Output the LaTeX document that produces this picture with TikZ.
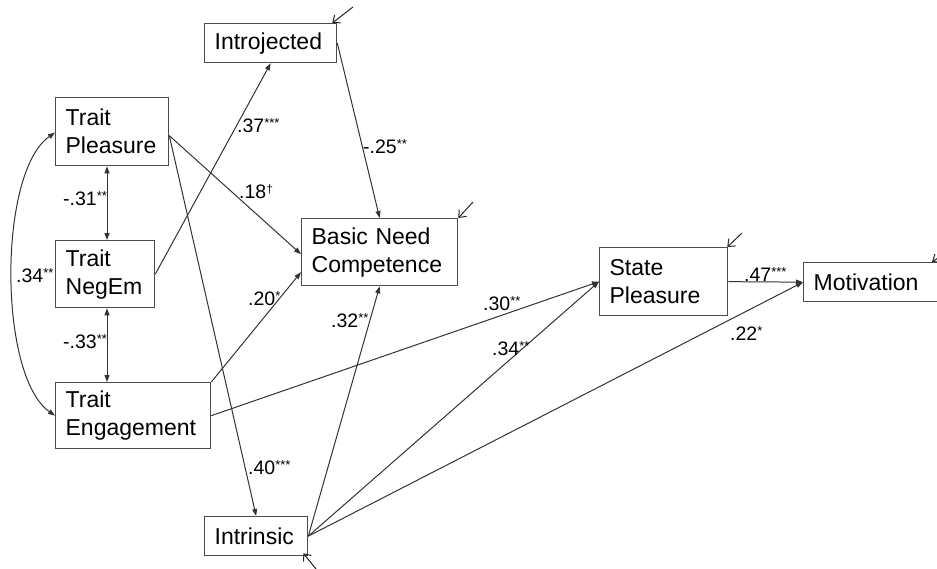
\documentclass[tikz,border=0pt]{standalone}
\usepackage{fontspec}
\setmainfont{Liberation Sans}
\usetikzlibrary{arrows.meta,calc}
\newcommand{\sg}[1]{\raisebox{5pt}{\fontsize{13}{13}\selectfont #1}}
\begin{document}
\begin{tikzpicture}[x=1pt,y=-1pt,
  box/.style={draw=black!70, line width=1.3pt, anchor=north west, inner xsep=10pt, inner ysep=2pt, align=left, font=\fontsize{23}{28}\selectfont, text=black},
  pth/.style={draw=black!80, line width=1pt, -{Triangle[length=7pt,width=5pt]}},
  dbl/.style={draw=black!80, line width=1pt, {Triangle[length=7pt,width=5pt]}-{Triangle[length=7pt,width=5pt]}},
  err/.style={draw=black!85, line width=1pt, -{Straight Barb[length=6pt,width=10pt]}},
  lab/.style={anchor=base west, inner sep=0pt, font=\fontsize{19.5}{20}\selectfont}]
\useasboundingbox (0,0) rectangle (937,568);
\clip (0,0) rectangle (937,568);

% boxes
\node[box, text width=112pt, minimum height=39pt] (intro) at (204,23) {Introjected};
\node[box, text width=93pt, minimum height=68pt] (tp) at (55,97) {Trait\\Pleasure};
\node[box, text width=79pt, minimum height=67pt] (tne) at (55,240) {Trait\\NegEm};
\node[box, text width=135pt, minimum height=66pt] (te) at (55,382) {Trait\\Engagement};
\node[box, text width=136pt, minimum height=67pt] (bnc) at (301,218) {Basic Need\\Competence};
\node[box, text width=108pt, minimum height=68pt] (sp) at (599,247) {State\\Pleasure};
\node[box, text width=130pt, minimum height=39pt] (mot) at (803,262) {Motivation};
\node[box, text width=83pt, minimum height=39pt] (intr) at (204,516) {Intrinsic};

% error terms
\coordinate (e1) at (353,7);
\coordinate (e2) at (473,202);
\coordinate (e3) at (742,233);
\coordinate (e4) at (947,252);
\coordinate (e5) at (316,569);
\draw[err] (e1) -- ($(intro.north east)+(-5,0)$);
\draw[err] (e2) -- (bnc.north east);
\draw[err] (e3) -- ($(sp.north east)+(-1,0)$);
\draw[err] (e4) -- ($(mot.north west)+(129,0)$);
\draw[err] (e5) -- ($(intr.south east)+(-5,-3)$);

% correlations
\draw[dbl] ($(tp.south west)+(52,0)$) -- ($(tne.north west)+(52,0)$);
\draw[dbl] ($(tne.south west)+(52,0)$) -- ($(te.north west)+(52,0)$);
\draw[dbl] ($(tp.west)+(0,1)$) .. controls ($(tp.west)+(-57,40)$) and ($(te.west)+(-57,-40)$) .. (te.west);

% paths
\coordinate (tpo) at ($(tp.east)+(0,4)$);
\draw[pth] (tne.east) -- (intro.south);
\draw[pth] (tpo) -- ($(bnc.west)+(0,2)$);
\draw[pth] (te.north east) -- ($(bnc.west)+(0,20)$);
\draw[pth] (intro.east) -- (bnc.north);
\draw[pth] (tpo) -- (intr.north);
\draw[pth] (intr.east) -- (bnc.south);
\draw[pth] (te.east) -- (sp.west);
\draw[pth] (intr.east) -- (sp.west);
\draw[pth] (intr.east) -- (mot.west);
\draw[pth] (sp.east) -- (mot.west);

% labels
\node[lab] (l37) at (237,132) {.37\sg{***}};
\node[lab] (l18) at (239,198) {.18\raisebox{5pt}{\fontsize{12}{12}\selectfont †}};
\node[lab] (l31) at (63,205) {-.31\sg{**}};
\node[lab] (l34a) at (16,282) {.34\sg{**}};
\node[lab] (l33) at (63,348) {-.33\sg{**}};
\node[lab] (l20) at (248,305) {.20\sg{*}};
\node[lab] (l25) at (363,153) {-.25\sg{**}};
\node[lab] (l32) at (331,327) {.32\sg{**}};
\node[lab] (l30) at (483,310) {.30\sg{**}};
\node[lab] (l34b) at (492,355) {.34\sg{**}};
\node[lab] (l47) at (744,281) {.47\sg{***}};
\node[lab] (l22) at (730,340) {.22\sg{*}};
\node[lab] (l40) at (248,474) {.40\sg{***}};
\end{tikzpicture}
\end{document}
